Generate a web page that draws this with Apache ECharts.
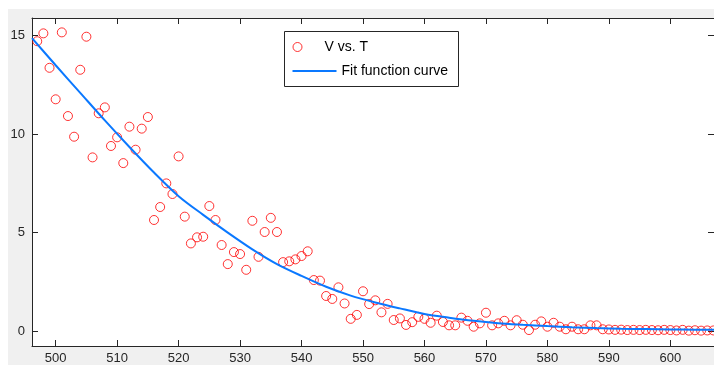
<!DOCTYPE html>
<html>
<head>
<meta charset="utf-8">
<script src="https://cdn.jsdelivr.net/npm/echarts@6/dist/echarts.min.js"></script>
<style>
html,body{margin:0;padding:0;background:#fff;}
#chart{width:714px;height:365px;}
</style>
</head>
<body>
<div id="chart"></div>
<script>
// Measured data (T, V)
var tValues = [497,498,499,500,501,502,503,504,505,506,507,508,509,510,511,512,513,514,515,516,517,518,519,520,521,522,523,524,525,526,527,528,529,530,531,532,533,534,535,536,537,538,539,540,541,542,543,544,545,546,547,548,549,550,551,552,553,554,555,556,557,558,559,560,561,562,563,564,565,566,567,568,569,570,571,572,573,574,575,576,577,578,579,580,581,582,583,584,585,586,587,588,589,590,591,592,593,594,595,596,597,598,599,600,601,602,603,604,605,606,607];
var vValues = [14.72,15.12,13.37,11.77,15.17,10.92,9.87,13.27,14.95,8.82,11.06,11.36,9.40,9.84,8.53,10.38,9.21,10.28,10.87,5.64,6.30,7.50,6.96,8.87,5.81,4.45,4.76,4.79,6.35,5.64,4.37,3.40,4.01,3.91,3.11,5.60,3.77,5.03,5.75,5.03,3.50,3.54,3.64,3.81,4.05,2.59,2.56,1.78,1.63,2.22,1.40,0.62,0.82,2.02,1.37,1.56,0.95,1.38,0.56,0.64,0.31,0.45,0.72,0.62,0.42,0.78,0.46,0.29,0.29,0.68,0.52,0.22,0.39,0.93,0.29,0.39,0.52,0.29,0.55,0.32,0.05,0.32,0.49,0.22,0.42,0.22,0.09,0.22,0.09,0.09,0.29,0.29,0.09,0.08,0.06,0.07,0.05,0.06,0.05,0.06,0.05,0.04,0.06,0.05,0.03,0.06,0.02,0.04,0.02,0.03,0.03];
// Fit curve
var fitT = [496.15,500,504,508,512,516,520,524,528,532,536,540,544,548,552,556,560,564,568,572,576,580,584,588,592,596,600,604,607.1];
var fitV = [14.88,13.5,12.1,10.7,9.35,8.05,6.85,5.9,5.0,4.15,3.4,2.8,2.25,1.8,1.45,1.15,0.87,0.68,0.52,0.40,0.32,0.25,0.19,0.15,0.12,0.10,0.08,0.07,0.06];
var xTicks = [500,510,520,530,540,550,560,570,580,590,600];
var yTicks = [0,5,10,15];
var seriesNames = ['V vs. T','Fit function curve'];

var scatterData = tValues.map(function(t,i){return [t,vValues[i]];});
var fitData = fitT.map(function(t,i){return [t,fitV[i]];});

var axisColor = '#262626';
var font = 'Liberation Sans, Arial, sans-serif';
var xMin = 496.15, xMax = 607.1, yMin = -0.76, yMax = 15.9;

function xAx(pos, showLabel){
  return {type:'value', position:pos, min:xMin, max:xMax,
    axisLine:{show:true, onZero:false, lineStyle:{color:axisColor,width:1}},
    axisTick:{show:true, inside:true, length:6, customValues:xTicks, lineStyle:{color:axisColor}},
    axisLabel:{show:showLabel, customValues:xTicks, color:axisColor, fontSize:13, fontFamily:font, margin:6},
    splitLine:{show:false}};
}
function yAx(pos, showLabel){
  return {type:'value', position:pos, min:yMin, max:yMax,
    axisLine:{show:true, onZero:false, lineStyle:{color:axisColor,width:1}},
    axisTick:{show:true, inside:true, length:6, customValues:yTicks, lineStyle:{color:axisColor}},
    axisLabel:{show:showLabel, customValues:yTicks, color:axisColor, fontSize:13, fontFamily:font, margin:7},
    splitLine:{show:false}};
}

var chart = echarts.init(document.getElementById('chart'), null, {renderer:'canvas'});
chart.setOption({
  animation:false,
  backgroundColor:'#ffffff',
  graphic:[
    {type:'rect', z:-10, silent:true, shape:{x:8,y:9,width:706,height:356}, style:{fill:'#f0f0f0'}},
    {type:'rect', z:3, silent:true, shape:{x:284.5,y:31.5,width:174,height:55}, style:{fill:'#ffffff', stroke:axisColor, lineWidth:1}}
  ],
  grid:{left:32, top:18, right:0, bottom:19, show:true, backgroundColor:'#ffffff', borderWidth:0},
  xAxis:[xAx('bottom', true), xAx('top', false)],
  yAxis:[yAx('left', true), yAx('right', false)],
  legend:[
    {data:[{name:seriesNames[0], icon:'circle', itemStyle:{color:'transparent', borderColor:'#ff0000', borderWidth:1}}],
     orient:'vertical', left:284, top:31, padding:[9,8,0,8.5], itemWidth:44, itemHeight:9,
     textStyle:{fontSize:14, fontFamily:font, color:'#000'}, z:5},
    {data:[{name:seriesNames[1], icon:'rect'}], orient:'vertical', left:284, top:57, padding:[7,8,0,8.5], itemWidth:44, itemHeight:2,
     textStyle:{fontSize:14, fontFamily:font, color:'#000'}, z:5}
  ],
  series:[
    {name:seriesNames[0], type:'scatter', data:scatterData, symbol:'circle', symbolSize:9,
     itemStyle:{color:'transparent', borderColor:'#ff0000', borderWidth:1}, z:2},
    {name:seriesNames[1], type:'line', data:fitData, smooth:0.3, showSymbol:false, symbol:'none',
     lineStyle:{color:'#0a78ff', width:2}, itemStyle:{color:'#0a78ff'}, z:3}
  ]
});
</script>
</body>
</html>
